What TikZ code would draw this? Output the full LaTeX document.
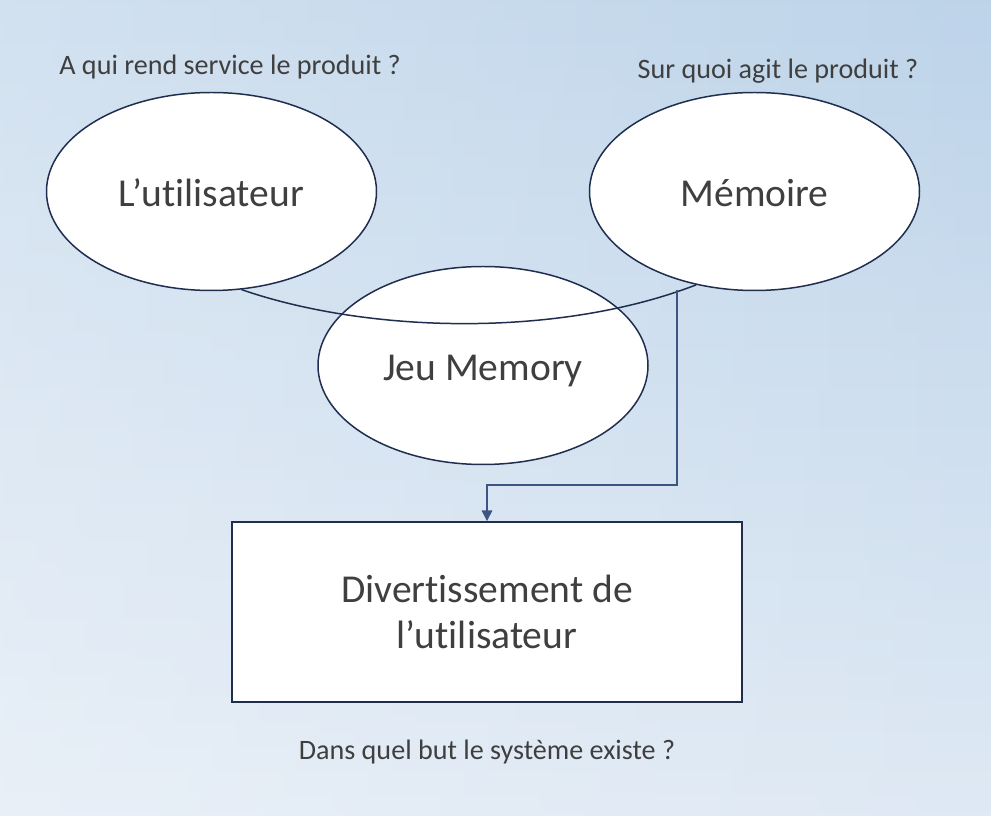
\documentclass[tikz,border=0pt]{standalone}
\usepackage{fontspec}
\setmainfont{Carlito}[Ligatures=NoCommon]
\usepackage{xcolor}
\usepackage{tikz}
\usetikzlibrary{arrows.meta,positioning,shapes.geometric,fadings}
\definecolor{cNavy}{HTML}{1F2E4E}
\definecolor{cArrow}{HTML}{3D5582}
\definecolor{cInk}{HTML}{3F3F3F}
\definecolor{cBgTop}{HTML}{BCD3E9}
\definecolor{cBgMid}{HTML}{D3E1EF}
\definecolor{cBgBot}{HTML}{DFE9F4}
\tikzset{
  ebox/.style={ellipse,draw=cNavy,fill=white,line width=0.85pt,minimum width=6.6cm,minimum height=3.96cm,inner sep=0pt,text height=0.72cm,text depth=0.1cm,text=cInk,font=\fontsize{22.5}{26}\selectfont},
  rbox/.style={rectangle,draw=cNavy,fill=white,line width=1.1pt,minimum width=10.2cm,minimum height=3.6cm,align=center,text=cInk,font=\fontsize{22.5}{26}\selectfont},
  qlbl/.style={font=\fontsize{16}{19}\selectfont,text=cInk,inner sep=0pt},
  lnk/.style={line width=0.85pt,color=cNavy},
  arr/.style={-{Triangle[length=6pt,width=6pt]},line width=0.85pt,color=cArrow},
}
\begin{document}
\begin{tikzpicture}[x=1cm,y=1cm]
    \useasboundingbox (0,0) rectangle (19.82,16.3);
    \shade[top color=cBgTop,middle color=cBgMid,bottom color=cBgBot] (-0.3,-0.3) rectangle (20.12,16.6);
    \fill[white,path fading=east,fill opacity=0.33] (-0.3,-0.3) rectangle (20.12,16.6);
    % questions
    \node[qlbl] (qwho) at (4.6,14.96) {A qui rend service le produit ?};
    \node[qlbl] (qwhat) at (15.56,14.88) {Sur quoi agit le produit ?};
    \node[qlbl] (qwhy) at (9.74,1.26) {Dans quel but le système existe ?};
    % ellipses and box
    \node[ebox] (jeu) at (9.66,8.99) {Jeu Memory};
    \node[ebox] (util) at (4.23,12.47) {L’utilisateur};
    \node[ebox] (mem) at (15.09,12.47) {Mémoire};
    \node[rbox] (div) at (9.74,4.06) {Divertissement de\\l’utilisateur};
    \draw[lnk] (util.-73) .. controls (7.4,9.62) and (11.2,9.55) .. (mem.-122);
    \coordinate (tap) at (13.54,10.5);
    \draw[arr] (tap) -- ++(0,-3.9) -| (div.north);
\end{tikzpicture}
\end{document}
